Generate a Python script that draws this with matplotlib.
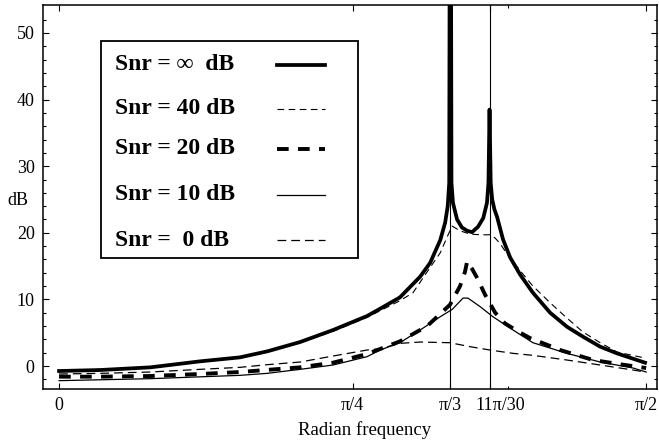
import numpy as np
import matplotlib
matplotlib.use("Agg")
import matplotlib.pyplot as plt
import matplotlib.transforms as mtransforms
from matplotlib.lines import Line2D
from matplotlib.patches import Rectangle

# ---- data ----
inf_freq = [0, 0.110, 0.244, 0.377, 0.484, 0.557, 0.645, 0.733, 0.824, 0.859, 0.912,
            0.966, 0.993, 1.020, 1.033, 1.040, 1.044, 1.0455, 1.0485, 1.050, 1.054, 1.065,
            1.078, 1.092, 1.105, 1.121, 1.135, 1.145, 1.149, 1.1519, 1.155, 1.159, 1.165,
            1.172, 1.188, 1.207, 1.234, 1.268, 1.314, 1.359, 1.402, 1.448, 1.493, 1.568]
inf_db = [-0.75, -0.6, -0.2, 0.7, 1.3, 2.2, 3.6, 5.4, 7.5, 8.6, 10.3,
          13.4, 15.5, 18.9, 21.5, 24.0, 27.5, 70.0, 70.0, 27.5, 24.5, 22.0,
          20.8, 20.3, 20.1, 20.9, 22.2, 24.5, 27.5, 38.5, 27.5, 25.0, 23.5,
          22.4, 19.0, 16.3, 13.7, 11.0, 8.0, 5.9, 4.4, 2.9, 1.9, 0.5]

snr40_freq = [0, 0.244, 0.484, 0.645, 0.733, 0.824, 0.912, 0.947, 0.993, 1.020, 1.041,
              1.052, 1.073, 1.100, 1.130, 1.153, 1.167, 1.180, 1.193, 1.234, 1.268,
              1.314, 1.359, 1.402, 1.448, 1.493, 1.568]
snr40_db = [-0.75, -0.2, 1.3, 3.5, 5.2, 7.3, 9.8, 11.0, 14.8, 17.0, 19.7,
            21.0, 20.3, 19.8, 19.7, 19.7, 19.2, 18.4, 17.3, 14.3, 12.0,
            9.5, 7.2, 5.1, 3.5, 2.1, 1.2]

snr20_freq = [0, 0.110, 0.244, 0.377, 0.484, 0.645, 0.733, 0.824, 0.912, 0.985, 1.046,
              1.073, 1.086, 1.092, 1.105, 1.119, 1.140, 1.167, 1.193, 1.234, 1.260,
              1.341, 1.429, 1.509, 1.571]
snr20_db = [-1.6, -1.6, -1.5, -1.2, -0.9, -0.2, 0.5, 1.8, 3.7, 6.0, 9.2,
            12.0, 14.1, 15.7, 14.6, 13.2, 10.7, 8.0, 6.4, 5.0, 4.2,
            2.4, 0.9, 0.2, -0.3]

snr10_freq = [0, 0.244, 0.484, 0.557, 0.645, 0.733, 0.824, 0.859, 0.912, 0.966, 1.020,
              1.052, 1.081, 1.094, 1.127, 1.161, 1.215, 1.268, 1.359, 1.448, 1.536, 1.571]
snr10_db = [-2.2, -1.9, -1.4, -1.1, -0.5, 0.15, 1.4, 2.4, 3.5, 5.4, 7.4,
            8.5, 10.2, 10.2, 8.9, 7.4, 5.4, 3.5, 1.9, 0.6, -0.3, -0.9]

snr0_freq = [0, 0.110, 0.244, 0.377, 0.484, 0.557, 0.645, 0.733, 0.824, 0.859, 0.912,
             0.966, 1.046, 1.100, 1.153, 1.215, 1.268, 1.359, 1.448, 1.536, 1.568]
snr0_db = [-1.2, -1.1, -0.9, -0.5, -0.2, 0.2, 0.6, 1.5, 2.4, 2.6, 3.4,
           3.6, 3.5, 2.9, 2.4, 1.9, 1.6, 0.9, 0.15, -0.6, -0.9]

legend_labels = ["Snr = \u221e  dB", "Snr = 40 dB", "Snr = 20 dB", "Snr = 10 dB", "Snr =  0 dB"]
xtick_vals = [0, np.pi / 4, np.pi / 3, 11 * np.pi / 30, np.pi / 2]
xtick_labels = ["0", "\u03c0/4", "\u03c0/3", "11\u03c0/30", "\u03c0/2"]
minor_xtick = [1.2]
ytick_vals = [0, 10, 20, 30, 40, 50]
vlines = [np.pi / 3, 11 * np.pi / 30]

# ---- figure ----
plt.rcParams['font.family'] = ['Liberation Serif', 'DejaVu Serif']
fig = plt.figure(figsize=(6.59, 4.43), dpi=100)
ax = fig.add_axes([43 / 659, 1 - 389 / 443, 614 / 659, 384 / 443])

styles = [
    dict(color='black', lw=2.7, ls='-'),
    dict(color='black', lw=0.8, ls=(0, (6, 4))),
    dict(color='black', lw=2.8, ls=(0, (3.0, 2.4)), dash_capstyle='butt'),
    dict(color='black', lw=0.9, ls='-'),
    dict(color='black', lw=0.9, ls=(0, (7, 4))),
]
series = [(inf_freq, inf_db), (snr40_freq, snr40_db), (snr20_freq, snr20_db),
          (snr10_freq, snr10_db), (snr0_freq, snr0_db)]
for (f, d), st in zip(series, styles):
    ax.plot(f, d, **st)

for v in vlines:
    ax.axvline(v, color='black', lw=0.8)

ax.set_xlim(-0.043, 1.600)
ax.set_ylim(-3.45, 54.2)
ax.set_xticks(xtick_vals)
ax.set_xticklabels(xtick_labels)
ax.set_xticks(minor_xtick, minor=True)
ax.set_yticks(ytick_vals)
ax.set_yticks(np.arange(-2, 54, 2), minor=True)
ax.tick_params(which='both', direction='in', top=True, right=True, labelsize=13, width=0.8)
ax.tick_params(which='major', length=4)
ax.tick_params(which='minor', length=2.5)
ax.tick_params(axis='x', pad=6)
ax.tick_params(axis='y', pad=6)
for s in ax.spines.values():
    s.set_linewidth(1.1)

# shift the 11pi/30 label a little to the right as in the reference
lbl = ax.get_xticklabels()[3]
lbl.set_transform(lbl.get_transform() + mtransforms.ScaledTranslation(11 / 100, 0, fig.dpi_scale_trans))

ax.set_xlabel("Radian frequency", fontsize=13.5)
ax.xaxis.set_label_coords((365 - 43) / 614, -(430 - 389) / 384)
ax.xaxis.label.set_va('center')
ax.set_ylabel("dB", fontsize=13, rotation=0, ha='center', va='center')
ax.yaxis.set_label_coords(-0.041, 0.492)

# ---- legend box (manual, text left / sample right) ----
ax.add_patch(Rectangle((0.0945, 0.341), 0.4186, 0.565, transform=ax.transAxes,
                       fill=False, edgecolor='black', lw=1.3, zorder=5))
row_y = [(389 - py) / 384 for py in (65, 109, 149, 195, 240)]
for lab, yy, st in zip(legend_labels, row_y, styles):
    ax.text(0.117, yy, lab, transform=ax.transAxes, fontsize=17, fontweight='bold',
            ha='left', va='center', zorder=6)
    ax.add_line(Line2D([0.381, 0.459], [yy, yy], transform=ax.transAxes, zorder=6, **st))

fig.savefig("out.png", dpi=100)
